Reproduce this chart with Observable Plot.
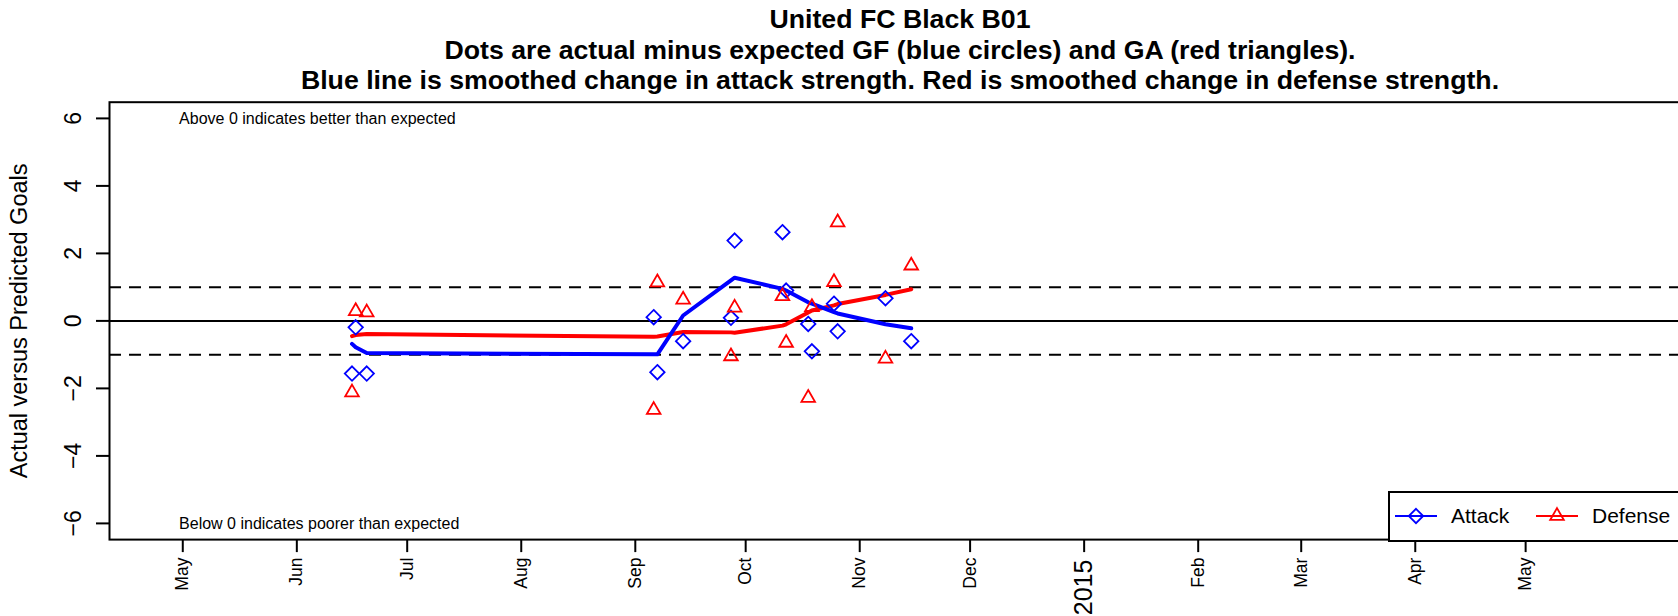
<!DOCTYPE html>
<html><head><meta charset="utf-8">
<script src="https://cdn.jsdelivr.net/npm/d3@7"></script>
<script src="https://cdn.jsdelivr.net/npm/@observablehq/plot@0.6"></script>
<style>
body{margin:0;width:1678px;height:616px;overflow:hidden;background:#fff;font-family:"Liberation Sans",Arial,sans-serif;position:relative}
#title{position:absolute;left:109px;width:1582px;top:4px;text-align:center;font-weight:bold;font-size:26.7px;line-height:30.5px;color:#000;white-space:nowrap}
#chart{position:absolute;left:0;top:95px;width:1691px}
#chart svg{max-width:none !important}
#legend{position:absolute;left:1388px;top:491px;width:320px;height:47px;border:2px solid #000;background:#fff}
</style></head><body>
<div id="title"><div>United FC Black B01</div><div>Dots are actual minus expected GF (blue circles) and GA (red triangles).</div><div>Blue line is smoothed change in attack strength. Red is smoothed change in defense strength.</div></div>
<div id="chart"></div>
<div id="legend"></div>
<script>
// ---- data ----
const gameDates = ["2014-06-16","2014-06-17","2014-06-20","2014-09-06","2014-09-07","2014-09-14","2014-09-27","2014-09-28","2014-10-11","2014-10-12","2014-10-18","2014-10-19","2014-10-25","2014-10-26","2014-11-08","2014-11-15"];
const attackResid = [-1.56,-0.19,-1.56, 0.11,-1.52,-0.60, 0.09, 2.38, 2.63, 0.90,-0.09,-0.90, 0.51,-0.31, 0.67,-0.60];
const defenseResid = [-2.12, 0.29, 0.25,-2.64, 1.14, 0.63,-1.05, 0.39, 0.73,-0.65,-2.28, 0.41, 1.15, 2.92,-1.12, 1.64];
const attackSmooth = [-0.68,-0.78,-0.95,-0.99,-0.99, 0.16, 1.20, 1.28, 0.95, 0.90, 0.55, 0.51, 0.26, 0.22,-0.10,-0.22];
const defenseSmooth = [-0.45,-0.42,-0.39,-0.47,-0.46,-0.33,-0.34,-0.35,-0.14,-0.10, 0.25, 0.31, 0.46, 0.50, 0.77, 0.94];
const monthTicks = ["2014-05-01","2014-06-01","2014-07-01","2014-08-01","2014-09-01","2014-10-01","2014-11-01","2014-12-01","2015-01-01","2015-02-01","2015-03-01","2015-04-01","2015-05-01"];
const monthLabels = ["May","Jun","Jul","Aug","Sep","Oct","Nov","Dec","2015","Feb","Mar","Apr","May"];
const yTicks = [-6,-4,-2,0,2,4,6];
const dashedLines = [-1,1];
const solidLines = [0];
const notes = [{date:"2014-04-30", y:6, text:"Above 0 indicates better than expected"},{date:"2014-04-30", y:-6, text:"Below 0 indicates poorer than expected"}];
const xDomain = ["2014-04-11T02:00:00Z","2015-06-15T02:00:00Z"];
const yDomain = [-6.48, 6.48];

const P = s => new Date(s.length > 10 ? s : s + "T00:00:00Z");
const games = gameDates.map((d,i) => ({date:P(d), att:attackResid[i], def:defenseResid[i], attS:attackSmooth[i], defS:defenseSmooth[i]}));
const ticks = monthTicks.map((d,i) => ({date:P(d), label:monthLabels[i], big: monthLabels[i] === "2015"}));
const FONT = '"Liberation Sans", Arial, sans-serif';

const plot = Plot.plot({
  width: 1691, height: 521,
  marginLeft: 109, marginRight: 0, marginTop: 6.7, marginBottom: 76.9,
  style: {fontFamily: FONT, background: "#fff", overflow: "visible", maxWidth: "none"},
  x: {type: "utc", domain: xDomain.map(P), axis: null},
  y: {domain: yDomain, axis: null},
  marks: [
    Plot.ruleY(dashedLines, {y: d => d, stroke: "#000", strokeWidth: 2, strokeDasharray: "12,8"}),
    Plot.ruleY(solidLines, {y: d => d, stroke: "#000", strokeWidth: 2}),
    Plot.line(games, {x: "date", y: "defS", stroke: "#ff0000", strokeWidth: 4}),
    Plot.line(games, {x: "date", y: "attS", stroke: "#0000ff", strokeWidth: 4}),
    Plot.dot(games, {x: "date", y: "att", symbol: "diamond2", r: 6.5, stroke: "#0000ff", strokeWidth: 1.8, fill: "none"}),
    Plot.dot(games, {x: "date", y: "def", symbol: "triangle2", r: 6.5, stroke: "#ff0000", strokeWidth: 1.8, fill: "none"}),
    Plot.text(notes, {x: d => P(d.date), y: "y", text: "text", textAnchor: "start", fontSize: 16, fill: "#000"}),
    Plot.frame({stroke: "#000", strokeWidth: 2}),
    Plot.axisX(ticks.map(d => d.date), {tickSize: 13, tickFormat: () => "", strokeWidth: 2}),
    Plot.text(ticks.filter(d => !d.big), {x: "date", text: "label", frameAnchor: "bottom", dy: 18, rotate: -90, textAnchor: "end", lineAnchor: "middle", fontSize: 17.5, fill: "#000"}),
    Plot.text(ticks.filter(d => d.big), {x: "date", text: "label", frameAnchor: "bottom", dy: 20, rotate: -90, textAnchor: "end", lineAnchor: "middle", fontSize: 25, fill: "#000"}),
    Plot.axisY(yTicks, {tickSize: 13, tickFormat: () => "", strokeWidth: 2}),
    Plot.text(yTicks, {y: d => d, text: d => String(d).replace("-", "\u2212"), frameAnchor: "left", dx: -36, rotate: -90, textAnchor: "middle", lineAnchor: "middle", fontSize: 23, fill: "#000"}),
    Plot.text(["Actual versus Predicted Goals"], {text: d => d, frameAnchor: "left", dx: -90, rotate: -90, textAnchor: "middle", lineAnchor: "middle", fontSize: 23.5, fill: "#000"})
  ]
});
document.getElementById("chart").appendChild(plot);

// legend (HTML overlay)
const lg = d3.select("#legend").append("svg").attr("width", 320).attr("height", 47);
const items = [{label:"Attack", color:"#0000ff", sym:d3.symbolDiamond2, x0:5}, {label:"Defense", color:"#ff0000", sym:d3.symbolTriangle2, x0:146}];
items.forEach(it => {
  lg.append("line").attr("x1", it.x0).attr("x2", it.x0 + 42).attr("y1", 23).attr("y2", 23).attr("stroke", it.color).attr("stroke-width", 2);
  lg.append("path").attr("d", d3.symbol(it.sym, 6.5*6.5*Math.PI)()).attr("transform", `translate(${it.x0+21},23)`).attr("fill", "none").attr("stroke", it.color).attr("stroke-width", 1.8);
  lg.append("text").attr("x", it.x0 + 56).attr("y", 23).attr("dy", "0.35em").attr("font-size", 21).attr("font-family", FONT).text(it.label);
});
</script>
</body></html>
